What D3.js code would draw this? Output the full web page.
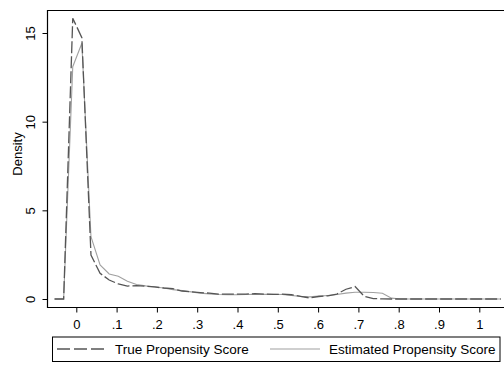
<!DOCTYPE html>
<html><head><meta charset="utf-8">
<script src="https://cdn.jsdelivr.net/npm/d3@7"></script>
<style>body{margin:0;background:#fff}svg{display:block}text{font-family:"Liberation Sans",Arial,sans-serif}</style>
</head><body>
<svg id="c" width="504" height="365"></svg>
<script>
const xStart = -0.054, xStep = 0.0226;
const trueScore = [0,0,15.83,14.74,2.48,1.45,1.07,0.85,0.73,0.75,0.72,0.68,0.62,0.58,0.45,0.40,0.36,0.33,0.27,0.28,0.27,0.28,0.30,0.28,0.26,0.27,0.24,0.15,0.06,0.14,0.18,0.28,0.55,0.70,0.15,0.02,0.01,0,0,0,0,0,0,0,0,0,0,0,0,0];
const estScore = [0,0,13.1,14.42,3.51,1.92,1.41,1.28,1.0,0.82,0.74,0.68,0.62,0.53,0.47,0.40,0.33,0.29,0.25,0.24,0.24,0.25,0.26,0.26,0.26,0.25,0.20,0.15,0.12,0.16,0.20,0.25,0.33,0.38,0.38,0.37,0.32,0.05,0,0,0,0,0,0,0,0,0,0,0,0];
const xTicks = [0,0.1,0.2,0.3,0.4,0.5,0.6,0.7,0.8,0.9,1];
const xTickLabels = ["0",".1",".2",".3",".4",".5",".6",".7",".8",".9","1"];
const yTicks = [0,5,10,15];
const seriesNames = ["True Propensity Score","Estimated Propensity Score"];

const svg = d3.select("#c");
const x = d3.scaleLinear().domain([0,1]).range([76.3,479.3]);
const y = d3.scaleLinear().domain([0,15]).range([299,33]);
const gridX = trueScore.map((_, i) => xStart + i*xStep);

// frame
svg.append("path").attr("d","M47,10.5H504M47,307.5H504").attr("stroke","#000").attr("stroke-width",1.2).attr("fill","none");
svg.append("line").attr("x1",47.5).attr("x2",47.5).attr("y1",10).attr("y2",308).attr("stroke","#000").attr("stroke-width",1.2);

const xa = svg.append("g").attr("transform","translate(0,307.5)")
  .call(d3.axisBottom(x).tickValues(xTicks).tickFormat((d,i)=>xTickLabels[i]).tickSize(5).tickPadding(4));
xa.select(".domain").remove();
xa.selectAll("line").attr("stroke","#000");
xa.selectAll("text").attr("font-size",13).attr("fill","#000").attr("font-family","Liberation Sans, Arial, sans-serif")
  .attr("y",null).attr("dy",null).attr("transform","translate(0,21)");

const ya = svg.append("g").attr("transform","translate(47.5,0)")
  .call(d3.axisLeft(y).tickValues(yTicks).tickSize(5));
ya.select(".domain").remove();
ya.selectAll("line").attr("stroke","#000");
ya.selectAll("text").attr("font-size",13).attr("fill","#000").attr("font-family","Liberation Sans, Arial, sans-serif")
  .attr("text-anchor","middle").attr("x",null).attr("y",0).attr("dy","0.35em")
  .attr("transform","translate(-17.5,0) rotate(-90)");

svg.append("text").attr("transform","translate(17.5,154) rotate(-90)").attr("text-anchor","middle")
  .attr("dy","0.35em").attr("font-size",13).text("Density");

const line = d3.line().x((d,i)=>x(gridX[i])).y(d=>y(d));
svg.append("path").datum(estScore).attr("d",line).attr("fill","none").attr("stroke","#a0a0a0").attr("stroke-width",1.1);
svg.append("path").datum(trueScore).attr("d",line).attr("fill","none").attr("stroke","#555").attr("stroke-width",1.3).attr("stroke-dasharray","12,3");

// legend
const lg = svg.append("g");
lg.append("rect").attr("x",52.5).attr("y",337).attr("width",447.5).attr("height",24.5).attr("fill","none").attr("stroke","#000").attr("stroke-width",1);
lg.append("line").attr("x1",57).attr("x2",107).attr("y1",349).attr("y2",349).attr("stroke","#555").attr("stroke-width",1.3).attr("stroke-dasharray","13,4");
lg.append("text").attr("x",115).attr("y",354).attr("font-size",13.5).text(seriesNames[0]);
lg.append("line").attr("x1",270).attr("x2",320).attr("y1",349).attr("y2",349).attr("stroke","#a0a0a0").attr("stroke-width",1.1);
lg.append("text").attr("x",329).attr("y",354).attr("font-size",13.5).text(seriesNames[1]);
</script>
</body></html>
